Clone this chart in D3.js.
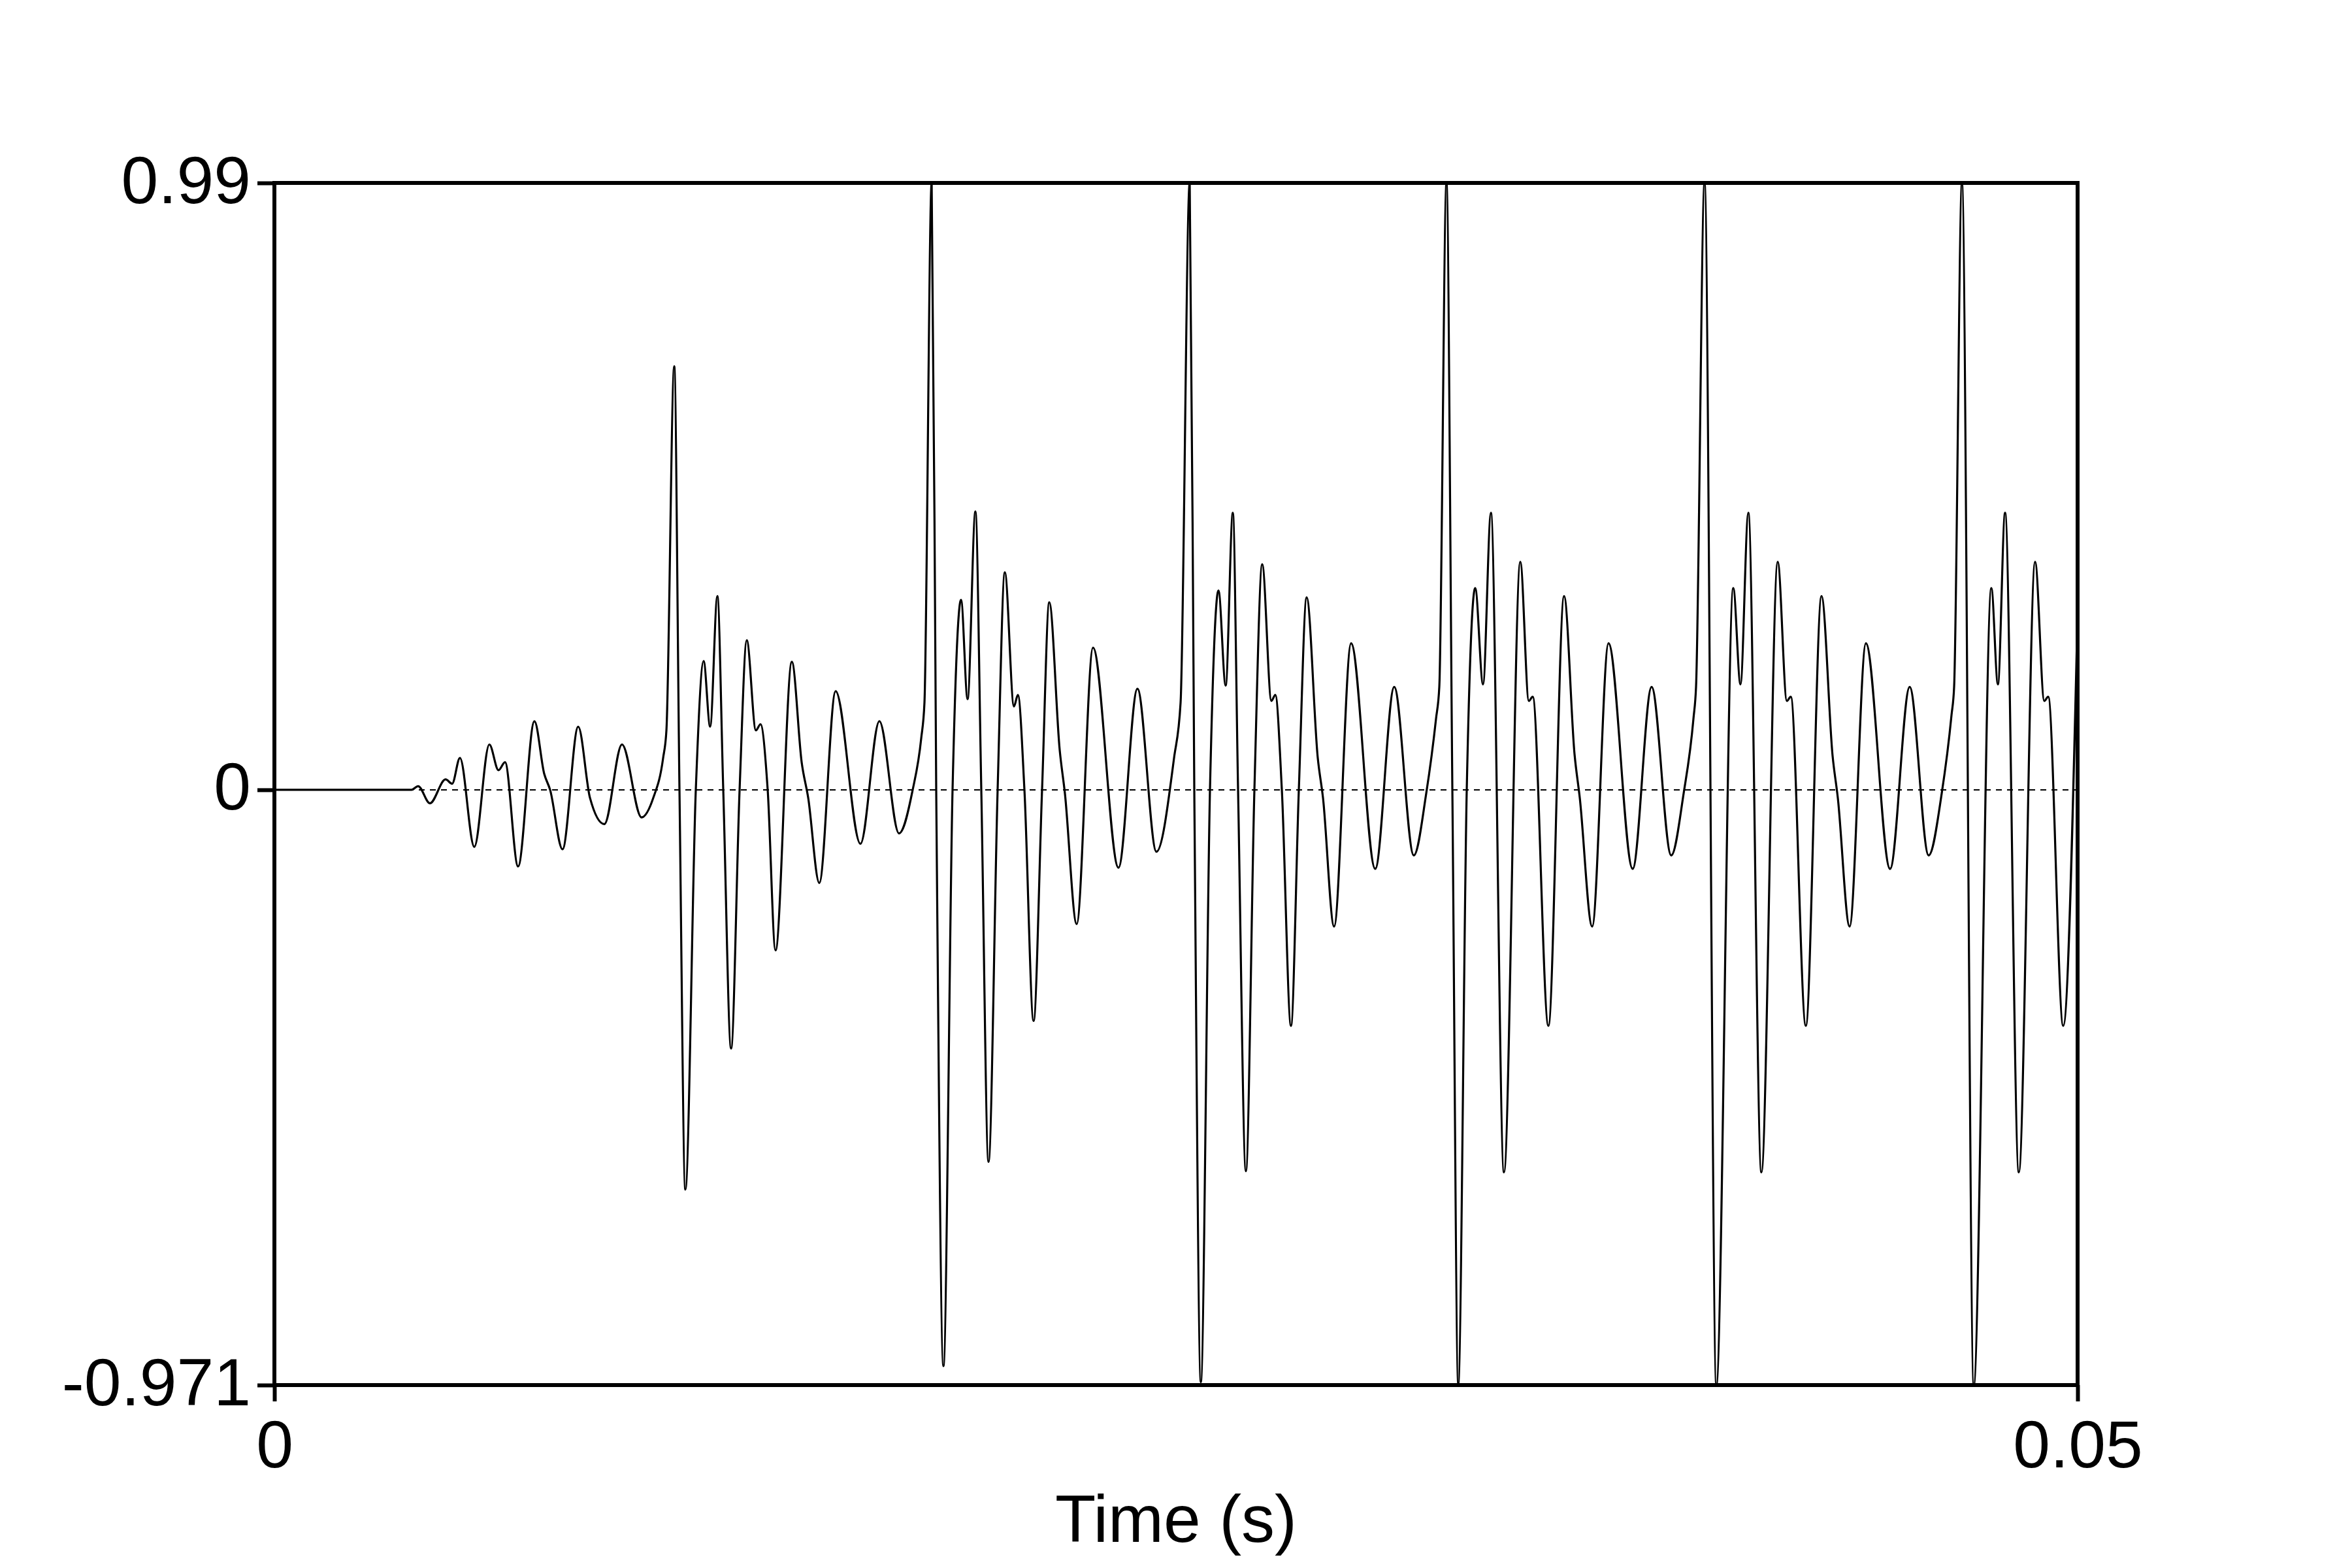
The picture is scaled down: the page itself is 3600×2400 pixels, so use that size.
<!DOCTYPE html>
<html>
<head>
<meta charset="utf-8">
<script src="https://cdn.jsdelivr.net/npm/d3@7"></script>
<style>
  html, body { margin: 0; padding: 0; background: #ffffff; }
  svg { display: block; }
</style>
</head>
<body>
<svg id="chart" width="3600" height="2400"></svg>
<script>
// ---- data ----
// time in milliseconds
const timesMs = [
  0, 3.804, 3.986, 4.312, 4.746, 4.928, 5.145, 5.543, 5.960, 6.214, 6.395, 6.757, 7.210, 7.482, 7.645,
  7.989, 8.424, 8.750, 9.149, 9.638, 10.181, 10.507, 10.779, 10.870, 11.087, 11.232, 11.395, 11.685,
  11.902, 12.083, 12.283, 12.446, 12.663, 12.899, 13.098, 13.351, 13.478, 13.678, 13.895, 14.348,
  14.620, 14.801, 15.109, 15.562, 16.250, 16.775, 17.319, 17.699, 17.935, 18.025,
  18.225, 18.351, 18.551, 18.804, 19.040, 19.221, 19.438, 19.601, 19.801, 20.054, 20.254, 20.507,
  20.616, 20.797, 21.051, 21.286, 21.486, 21.775, 21.920, 22.246, 22.699, 23.406, 23.931, 24.457,
  24.946, 25.127,
  25.380, 25.507, 25.688, 25.942, 26.178, 26.377, 26.576, 26.721, 26.938, 27.174, 27.391, 27.645,
  27.754, 27.935, 28.188, 28.406, 28.623, 28.931, 29.076, 29.384, 29.855, 30.525, 31.051, 31.594,
  31.938, 32.210, 32.301,
  32.500, 32.663, 32.826, 33.062, 33.297, 33.514, 33.732, 34.094, 34.547, 34.783, 34.891, 35.326,
  35.761, 36.051, 36.196, 36.540, 36.993, 37.663, 38.188, 38.732, 39.076, 39.348, 39.420,
  39.656, 39.982, 40.453, 40.652, 40.870, 41.232, 41.685, 41.938, 42.047, 42.464, 42.899, 43.207,
  43.351, 43.678, 44.130, 44.801, 45.344, 45.870, 46.232, 46.504, 46.576,
  46.793, 47.120, 47.609, 47.790, 47.989, 48.370, 48.822, 49.076, 49.185, 49.601, 50.000
];
const amplitudes = [
  0, 0, 0.006, -0.022, 0.017, 0.010, 0.052, -0.093, 0.074, 0.032, 0.045, -0.125, 0.112, 0.026, 0.0,
  -0.097, 0.103, -0.013, -0.056, 0.074, -0.045, -0.013, 0.052, 0.097, 0.691, 0.0, -0.652, 0.0,
  0.210, 0.103, 0.316, 0.0, -0.422, 0.0, 0.244, 0.097, 0.107, 0.0, -0.262, 0.209,
  0.045, -0.013, -0.152, 0.161, -0.088, 0.112, -0.071, 0.0, 0.084, 0.142,
  0.99, 0.0, -0.940, 0.0, 0.310, 0.148, 0.454, 0.0, -0.607, 0.0, 0.355, 0.136,
  0.155, 0.0, -0.377, 0.0, 0.306, 0.065, -0.006, -0.219, 0.232, -0.127, 0.165, -0.101,
  0.052, 0.142,
  0.99, 0.0, -0.966, 0.0, 0.325, 0.170, 0.452, 0.0, -0.622, 0.0, 0.368, 0.145,
  0.155, 0.0, -0.385, 0.0, 0.314, 0.052, -0.013, -0.223, 0.239, -0.129, 0.168, -0.107,
  -0.006, 0.116, 0.168,
  0.99, 0.0, -0.969, 0.0, 0.329, 0.172, 0.452, -0.624, 0.372, 0.145, 0.152, -0.385,
  0.316, 0.058, -0.013, -0.223, 0.239, -0.129, 0.168, -0.107, -0.006, 0.116, 0.168,
  0.99, -0.971, 0.329, 0.172, 0.452, -0.624, 0.372, 0.145, 0.152, -0.385, 0.316, 0.055,
  -0.013, -0.223, 0.239, -0.129, 0.168, -0.107, -0.006, 0.122, 0.168,
  0.99, -0.971, 0.329, 0.172, 0.452, -0.624, 0.372, 0.145, 0.152, -0.385, 0.29
];
const xTickValues = [0, 0.05];
const xTickLabels = ["0", "0.05"];
const yTickValues = [0.99, 0, -0.971];
const yTickLabels = ["0.99", "0", "-0.971"];
const xAxisTitle = "Time (s)";

// ---- layout ----
const plotLeft = 420, plotRight = 3180, plotTop = 280, plotBottom = 2120;
const FONT = "'Liberation Sans', Arial, Helvetica, sans-serif";
const FS = 102;

const svg = d3.select("#chart");
svg.append("rect").attr("width", 3600).attr("height", 2400).attr("fill", "#fff");

const x = d3.scaleLinear().domain([0, 0.05]).range([plotLeft, plotRight]);
const y = d3.scaleLinear().domain([-0.971, 0.99]).range([plotBottom, plotTop]);

const n = Math.min(timesMs.length, amplitudes.length);
const points = timesMs.slice(0, n).map((t, i) => [t / 1000, amplitudes[i]]);

svg.append("defs").append("clipPath").attr("id", "clip")
  .append("rect").attr("x", plotLeft).attr("y", plotTop - 2)
  .attr("width", plotRight - plotLeft).attr("height", plotBottom - plotTop + 4);

// zero dashed line
svg.append("line")
  .attr("x1", x(0)).attr("x2", x(0.05))
  .attr("y1", y(0)).attr("y2", y(0))
  .attr("stroke", "#000").attr("stroke-width", 2)
  .attr("stroke-dasharray", "9,8");

// waveform
const line = d3.line()
  .x(d => x(d[0]))
  .y(d => y(d[1]))
  .curve(d3.curveMonotoneX);

svg.append("path")
  .datum(points)
  .attr("clip-path", "url(#clip)")
  .attr("d", line)
  .attr("fill", "none")
  .attr("stroke", "#000")
  .attr("stroke-width", 3.2)
  .attr("stroke-linejoin", "round");

// frame
svg.append("rect")
  .attr("x", plotLeft).attr("y", plotTop)
  .attr("width", plotRight - plotLeft).attr("height", plotBottom - plotTop)
  .attr("fill", "none").attr("stroke", "#000").attr("stroke-width", 6);

// axes
const yAxis = d3.axisLeft(y)
  .tickValues(yTickValues)
  .tickSize(26)
  .tickPadding(10)
  .tickFormat((d, i) => yTickLabels[i]);
const gy = svg.append("g").attr("transform", `translate(${plotLeft},0)`).call(yAxis);
gy.select(".domain").remove();
gy.selectAll(".tick line").attr("stroke", "#000").attr("stroke-width", 6);
gy.selectAll(".tick text")
  .attr("font-family", FONT).attr("font-size", FS).attr("fill", "#000")
  .attr("dy", "30px");

const xAxis = d3.axisBottom(x)
  .tickValues(xTickValues)
  .tickSize(25)
  .tickPadding(29)
  .tickFormat((d, i) => xTickLabels[i]);
const gx = svg.append("g").attr("transform", `translate(0,${plotBottom})`).call(xAxis);
gx.select(".domain").remove();
gx.selectAll(".tick line").attr("stroke", "#000").attr("stroke-width", 6);
gx.selectAll(".tick text")
  .attr("font-family", FONT).attr("font-size", FS).attr("fill", "#000")
  .attr("dy", "72px");

svg.append("text")
  .attr("x", (plotLeft + plotRight) / 2).attr("y", 2360)
  .attr("text-anchor", "middle")
  .attr("font-family", FONT).attr("font-size", FS).attr("fill", "#000")
  .text(xAxisTitle);
</script>
</body>
</html>
